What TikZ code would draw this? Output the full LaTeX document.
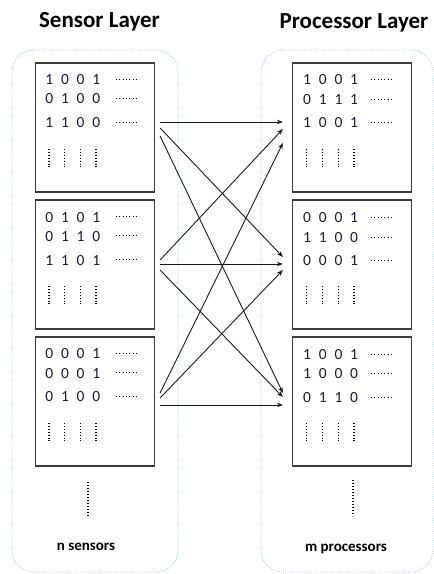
\documentclass[tikz,border=0pt]{standalone}
\usepackage{fontspec}
\setmainfont{Carlito}
\usetikzlibrary{arrows.meta,calc}
\newcommand\drow[4]{\makebox[15.7pt]{#1}\makebox[15.7pt]{#2}\makebox[15.7pt]{#3}\makebox[15.7pt]{#4}}
\definecolor{contblue}{RGB}{150,195,232}
\definecolor{boxgray}{RGB}{60,60,60}
\definecolor{digcol}{RGB}{25,25,50}
\begin{document}
\begin{tikzpicture}[x=1pt,y=-1pt,
  cont/.style={draw=contblue, line width=0.8pt, dash pattern=on 0.8pt off 1.4pt, rounded corners=22pt},
  databox/.style={draw=boxgray, line width=1.2pt, minimum width=119pt, minimum height=129pt, inner sep=0pt},
  link/.style={draw={rgb,255:red,25;green,25;blue,25}, line width=0.9pt, -{Stealth[length=6pt,width=4.5pt]}},
  digrow/.style={font=\fontsize{15.5}{15.5}\selectfont, inner sep=0pt, text=digcol, anchor=base west},
  hdots/.style={draw=black, line width=1pt, dash pattern=on 0.9pt off 2.4pt},
  vdots/.style={draw=black, line width=1.1pt, dash pattern=on 0.9pt off 2pt},
  bigdots/.style={draw=black, line width=1.2pt, dash pattern=on 1pt off 2pt},
  title/.style={font=\bfseries\fontsize{23}{23}\selectfont, inner sep=0pt, anchor=base},
  lab/.style={font=\bfseries\fontsize{15}{15}\selectfont, inner sep=0pt, anchor=base}
]
\useasboundingbox (0,0) rectangle (434,574);

% titles
\node[title] (t1) at (99.5,27) {Sensor Layer};
\node[title] (t2) at (354,28.5) {Processor Layer};

% containers
\draw[cont] (12,50) rectangle (178,572);
\draw[cont] (261,50) rectangle (433,572);

% boxes
\node[databox] (s1) at (95,127.5) {};
\node[databox] (s2) at (95,264.5) {};
\node[databox] (s3) at (95,401.5) {};
\node[databox] (p1) at (352,127.5) {};
\node[databox] (p2) at (352,264.5) {};
\node[databox] (p3) at (352,401.5) {};

% sensor rows
\node[digrow] (s1a) at (41.2,84) {\drow1001};
\node[digrow] (s1b) at (41.2,103.5) {\drow0100};
\node[digrow] (s1c) at (41.2,127) {\drow1100};
\node[digrow] (s2a) at (41.2,222) {\drow0101};
\node[digrow] (s2b) at (41.2,241.5) {\drow0110};
\node[digrow] (s2c) at (41.2,265) {\drow1101};
\node[digrow] (s3a) at (41.2,358.5) {\drow0001};
\node[digrow] (s3b) at (41.2,378) {\drow0001};
\node[digrow] (s3c) at (41.2,401.5) {\drow0100};

% processor rows
\node[digrow] (p1a) at (299,84.5) {\drow1001};
\node[digrow] (p1b) at (299,104) {\drow0111};
\node[digrow] (p1c) at (299,127.5) {\drow1001};
\node[digrow] (p2a) at (299,222.5) {\drow0001};
\node[digrow] (p2b) at (299,242) {\drow1100};
\node[digrow] (p2c) at (299,265.5) {\drow0001};
\node[digrow] (p3a) at (299,359) {\drow1001};
\node[digrow] (p3b) at (299,378.5) {\drow1000};
\node[digrow] (p3c) at (299,402) {\drow0110};

% horizontal dots
\foreach \y in {79,98.5,122, 216,235.5,259, 353,372.5,396} {
  \draw[hdots] (116,\y) -- (138,\y);
}
\foreach \y in {79.5,99,122.5, 217.5,237,260.5, 354,373.5,397} {
  \draw[hdots] (371,\y) -- (393,\y);
}
% vertical dots in boxes
\foreach \t in {63,200,337} {
  \foreach \x in {49,64.7,80.4,96} {
    \draw[vdots] (\x,\t+86) -- (\x,\t+106);
  }
  \foreach \x in {306.9,322.6,338.3,354} {
    \draw[vdots] (\x,\t+86) -- (\x,\t+106);
  }
}

% big vertical dots
\draw[bigdots] (88,482) -- (88,517);
\draw[bigdots] (353,480) -- (353,516);

% labels
\node[lab] (nl) at (86,550) {n sensors};
\node[lab] (ml) at (346,551) {m processors};

% connections
\foreach \s/\sy/\p/\py in {s1/-5.5/p1/-5.5, s1/0.5/p2/-7.5, s1/8.5/p3/-8.5,
                           s2/-4.5/p1/1.5, s2/-0.5/p2/-0.5, s2/5.5/p3/-4.5,
                           s3/-8.5/p1/15.5, s3/-3.5/p2/5.5, s3/3.5/p3/3.5} {
  \draw[link] ($(\s.east)+(5,\sy)$) -- ($(\p.west)+(-9,\py)$);
}
\end{tikzpicture}
\end{document}
